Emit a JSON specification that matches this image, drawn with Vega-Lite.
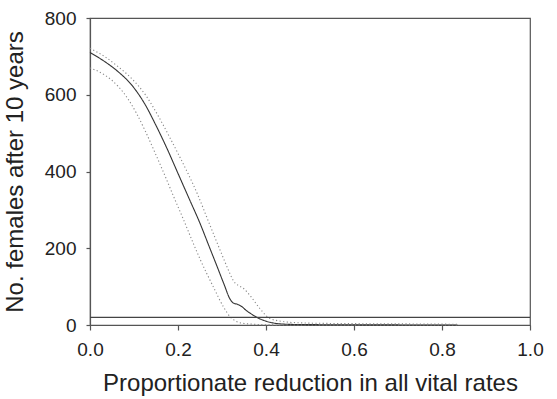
{
  "$schema": "https://vega.github.io/schema/vega-lite/v6.json",
  "width": 440,
  "height": 307,
  "autosize": {"type": "none"},
  "padding": {"left": 90, "top": 18, "right": 27, "bottom": 74},
  "background": "white",
  "config": {
    "view": {"stroke": "#555", "strokeWidth": 1.2},
    "font": "Liberation Sans",
    "axis": {
      "grid": false,
      "domainColor": "#555",
      "domainWidth": 1.2,
      "tickColor": "#555",
      "tickWidth": 1.2,
      "labelFont": "Liberation Sans",
      "titleFont": "Liberation Sans",
      "labelColor": "#222",
      "titleColor": "#222",
      "titleFontWeight": "normal",
      "labelFontSize": 19,
      "titleFontSize": 24,
      "labelFlush": false
    }
  },
  "datasets": {
    "curves": [
      {"x": 0.0, "y": 710, "s": "mean"},
      {"x": 0.034, "y": 686, "s": "mean"},
      {"x": 0.064, "y": 660, "s": "mean"},
      {"x": 0.095, "y": 625, "s": "mean"},
      {"x": 0.125, "y": 575, "s": "mean"},
      {"x": 0.15, "y": 520, "s": "mean"},
      {"x": 0.175, "y": 460, "s": "mean"},
      {"x": 0.2, "y": 395, "s": "mean"},
      {"x": 0.225, "y": 330, "s": "mean"},
      {"x": 0.25, "y": 265, "s": "mean"},
      {"x": 0.27, "y": 207, "s": "mean"},
      {"x": 0.288, "y": 155, "s": "mean"},
      {"x": 0.305, "y": 105, "s": "mean"},
      {"x": 0.318, "y": 68, "s": "mean"},
      {"x": 0.326, "y": 57, "s": "mean"},
      {"x": 0.335, "y": 54, "s": "mean"},
      {"x": 0.345, "y": 48, "s": "mean"},
      {"x": 0.355, "y": 38, "s": "mean"},
      {"x": 0.365, "y": 30, "s": "mean"},
      {"x": 0.379, "y": 20, "s": "mean"},
      {"x": 0.395, "y": 12, "s": "mean"},
      {"x": 0.409, "y": 7, "s": "mean"},
      {"x": 0.432, "y": 3, "s": "mean"},
      {"x": 0.46, "y": 1.5, "s": "mean"},
      {"x": 0.5, "y": 1, "s": "mean"},
      {"x": 0.6, "y": 0.5, "s": "mean"},
      {"x": 0.7, "y": 0.2, "s": "mean"},
      {"x": 0.835, "y": 0, "s": "mean"},
      {"x": 0.0, "y": 721, "s": "upper"},
      {"x": 0.034, "y": 699, "s": "upper"},
      {"x": 0.064, "y": 673, "s": "upper"},
      {"x": 0.095, "y": 642, "s": "upper"},
      {"x": 0.127, "y": 598, "s": "upper"},
      {"x": 0.155, "y": 545, "s": "upper"},
      {"x": 0.178, "y": 496, "s": "upper"},
      {"x": 0.2, "y": 447, "s": "upper"},
      {"x": 0.223, "y": 394, "s": "upper"},
      {"x": 0.245, "y": 339, "s": "upper"},
      {"x": 0.265, "y": 282, "s": "upper"},
      {"x": 0.285, "y": 225, "s": "upper"},
      {"x": 0.3, "y": 183, "s": "upper"},
      {"x": 0.315, "y": 142, "s": "upper"},
      {"x": 0.326, "y": 115, "s": "upper"},
      {"x": 0.337, "y": 103, "s": "upper"},
      {"x": 0.348, "y": 96, "s": "upper"},
      {"x": 0.365, "y": 75, "s": "upper"},
      {"x": 0.386, "y": 43, "s": "upper"},
      {"x": 0.409, "y": 17, "s": "upper"},
      {"x": 0.439, "y": 9, "s": "upper"},
      {"x": 0.47, "y": 6, "s": "upper"},
      {"x": 0.55, "y": 4, "s": "upper"},
      {"x": 0.7, "y": 3, "s": "upper"},
      {"x": 0.835, "y": 2, "s": "upper"},
      {"x": 0.0, "y": 670, "s": "lower"},
      {"x": 0.034, "y": 651, "s": "lower"},
      {"x": 0.064, "y": 622, "s": "lower"},
      {"x": 0.087, "y": 588, "s": "lower"},
      {"x": 0.105, "y": 553, "s": "lower"},
      {"x": 0.125, "y": 507, "s": "lower"},
      {"x": 0.15, "y": 443, "s": "lower"},
      {"x": 0.17, "y": 390, "s": "lower"},
      {"x": 0.19, "y": 335, "s": "lower"},
      {"x": 0.212, "y": 276, "s": "lower"},
      {"x": 0.235, "y": 212, "s": "lower"},
      {"x": 0.25, "y": 172, "s": "lower"},
      {"x": 0.28, "y": 100, "s": "lower"},
      {"x": 0.303, "y": 48, "s": "lower"},
      {"x": 0.318, "y": 22, "s": "lower"},
      {"x": 0.333, "y": 9, "s": "lower"},
      {"x": 0.35, "y": 4, "s": "lower"},
      {"x": 0.364, "y": 2.6, "s": "lower"},
      {"x": 0.4, "y": 0.5, "s": "lower"},
      {"x": 0.45, "y": 0, "s": "lower"},
      {"x": 0.835, "y": 0, "s": "lower"}
    ],
    "threshold": [{"y": 20}]
  },
  "layer": [
    {
      "data": {"name": "curves"},
      "mark": {"type": "line", "strokeWidth": 1.1, "interpolate": "monotone"},
      "encoding": {
        "x": {
          "field": "x", "type": "quantitative",
          "scale": {"domain": [0, 1], "nice": false},
          "axis": {
            "values": [0, 0.2, 0.4, 0.6, 0.8, 1.0], "format": ".1f",
            "title": "Proportionate reduction in all vital rates",
            "tickSize": 5, "labelPadding": 10, "titlePadding": 12
          }
        },
        "y": {
          "field": "y", "type": "quantitative",
          "scale": {"domain": [0, 800], "nice": false},
          "axis": {
            "values": [0, 200, 400, 600, 800],
            "title": "No. females after 10 years",
            "tickSize": 4, "labelPadding": 10, "titlePadding": 17
          }
        },
        "detail": {"field": "s"},
        "color": {
          "field": "s", "type": "nominal",
          "scale": {"domain": ["mean", "upper", "lower"], "range": ["#333333", "#888888", "#888888"]},
          "legend": null
        },
        "strokeDash": {
          "field": "s", "type": "nominal",
          "scale": {"domain": ["mean", "upper", "lower"], "range": [[1, 0], [1.2, 2.4], [1.2, 2.4]]},
          "legend": null
        }
      }
    },
    {
      "data": {"name": "threshold"},
      "mark": {"type": "rule", "color": "#444", "strokeWidth": 1.1},
      "encoding": {"y": {"field": "y", "type": "quantitative"}}
    }
  ]
}
